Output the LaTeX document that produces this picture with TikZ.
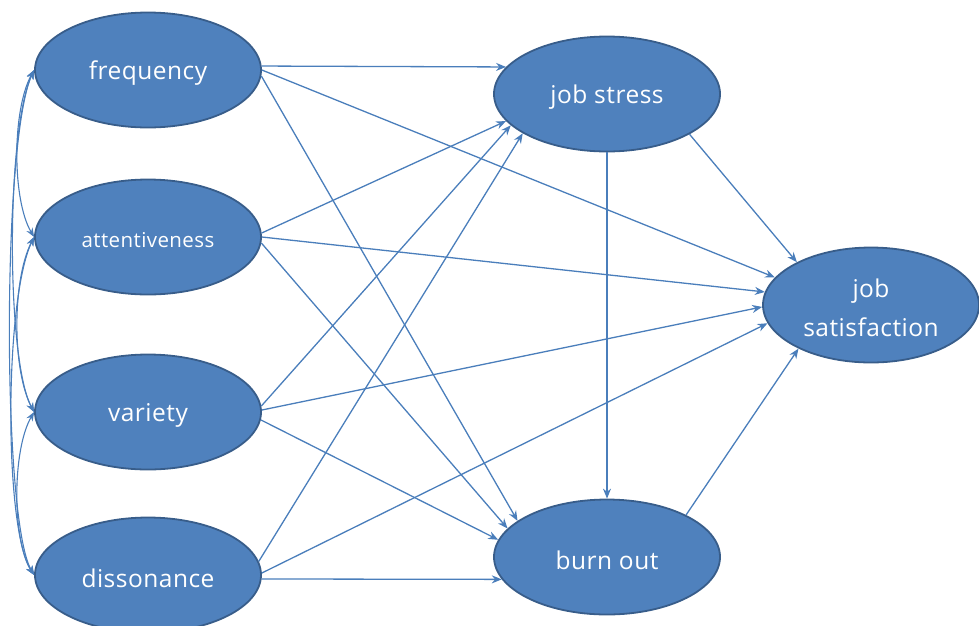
\documentclass[tikz,border=0pt]{standalone}
\usepackage{fontspec}
\setmainfont{Open Sans}[LetterSpace=2]
\usetikzlibrary{shapes.geometric,arrows.meta}
\definecolor{efill}{HTML}{4F81BD}
\definecolor{edraw}{HTML}{385D8A}
\definecolor{lnk}{HTML}{4A7EBB}
\newcommand{\dn}[1]{\raisebox{-3pt}[\height][\depth]{#1}}
\begin{document}
\begin{tikzpicture}[x=1pt,y=-1pt,
  var/.style={ellipse, fill=efill, draw=edraw, line width=1.8pt, minimum width=226pt, minimum height=115pt, inner sep=0pt, text=white, font=\fontsize{24.5}{28}\selectfont, align=center},
  lk/.style={draw=lnk, line width=1.3pt, -{Stealth[length=10pt,width=8pt]}},
  cor/.style={draw=lnk, line width=1.1pt, {Stealth[length=9pt,width=7pt]}-{Stealth[length=9pt,width=7pt]}}]
\useasboundingbox (0,0) rectangle (979,625);
\clip (0,0) rectangle (979,625);
\node[var] (freq) at (148,70) {\dn{frequency}};
\node[var, font=\fontsize{20.5}{24}\selectfont] (att) at (148,237) {\dn{attentiveness}};
\node[var] (vari) at (148,412) {\dn{variety}};
\node[var] (dis) at (148,575) {\dn{dissonance}};
\node[var] (js) at (607,94) {\dn{job stress}};
\node[var] (bo) at (607,557) {\dn{burn out}};
\node[var, minimum width=216pt, font=\fontsize{24.5}{39}\selectfont] (sat) at (871,305) {\dn{job}\\\dn{satisfaction}};
% left correlations
\draw[cor] (freq.180) .. controls (12,110) and (12,200) .. (att.180);
\draw[cor] (freq.180) .. controls (6,130) and (6,360) .. (vari.180);
\draw[cor] (freq.180) .. controls (2,140) and (2,520) .. (dis.180);
\draw[cor] (att.180) .. controls (12,280) and (12,370) .. (vari.180);
\draw[cor] (att.180) .. controls (4,300) and (4,530) .. (dis.180);
\draw[cor] (vari.180) .. controls (12,450) and (12,540) .. (dis.180);
% paths
\draw[lk] (freq.2) -- (js.165);
\draw[lk] (freq.0) -- (sat.164);
\draw[lk] (freq.-3) -- (bo.158);
\draw[lk] (att.2) -- (js.195);
\draw[lk] (att.0) -- (sat.173);
\draw[lk] (att.-3) -- (bo.164);
\draw[lk] (vari.3) -- (js.198);
\draw[lk] (vari.1) -- (sat.181);
\draw[lk] (vari.-4) -- (bo.171);
\draw[lk] (dis.7) -- (js.205);
\draw[lk] (dis.1.5) -- (sat.190);
\draw[lk] (dis.-2.5) -- (bo.192);
\draw[lk] (js.south) -- (bo.north);
\draw[lk] (js.-26) -- (sat.150);
\draw[lk] (bo.28) -- (sat.211);
\end{tikzpicture}
\end{document}
